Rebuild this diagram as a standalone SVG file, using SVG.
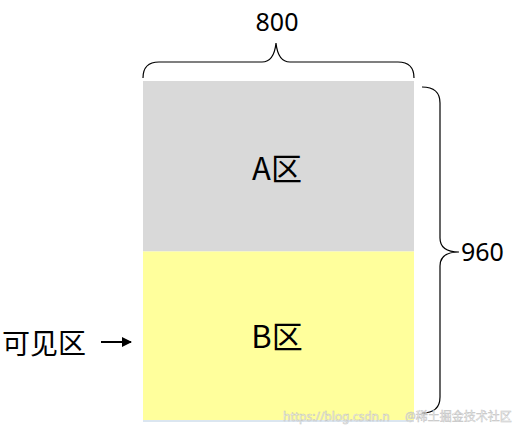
<svg xmlns="http://www.w3.org/2000/svg" width="514" height="436" viewBox="0 0 514 436">
<style>
.lbl{font-family:"Noto Sans","Open Sans","Noto Sans CJK SC",sans-serif;fill:#000}
.cjk{font-family:"Noto Sans CJK SC","Noto Sans",sans-serif;fill:#000}
.brace{fill:none;stroke:#000;stroke-width:1.2}
.wm{font-family:"Noto Sans","Noto Sans CJK SC",sans-serif;font-size:12px;fill:#ffffff;stroke:#b8b8b8;stroke-width:0.5;opacity:0.85}
</style>
<defs>
<marker id="ah" viewBox="0 0 10 10" refX="9" refY="5" markerWidth="5" markerHeight="5" orient="auto" markerUnits="strokeWidth">
<path d="M0,0 L10,5 L0,10 z" fill="#000"/>
</marker>
</defs>
<rect width="514" height="436" fill="#fff"/>
<g id="nodeA">
<rect x="143" y="81" width="271" height="170.5" fill="#d9d9d9"/>
<text class="cjk" x="277" y="180" font-size="31" text-anchor="middle">A区</text>
</g>
<g id="nodeB">
<rect x="143" y="251.5" width="271" height="168.5" fill="#ffff9c"/>
<line x1="143" y1="421" x2="414" y2="421" stroke="#dbe6f0" stroke-width="2"/>
<text class="cjk" x="277" y="348" font-size="31" text-anchor="middle">B区</text>
</g>
<g id="connectors">
<path class="brace" d="M143,78 Q143,62 159,62 L262,62 Q274,62 276,43 Q278,62 290,62 L398,62 Q414,62 414,78"/>
<path class="brace" d="M422,87 Q440,87 440,103 L440,238 Q440,252 459,252 Q440,252 440,266 L440,397 Q440,413 422,413"/>
<line x1="101" y1="342" x2="131" y2="342" stroke="#000" stroke-width="2" marker-end="url(#ah)"/>
</g>
<g id="labels">
<text class="lbl" x="277" y="31" font-size="25" text-anchor="middle">800</text>
<text class="lbl" x="461" y="261" font-size="25">960</text>
<text class="cjk" x="2" y="354" font-size="28">可见区</text>
</g>
<text class="wm" x="283" y="421">https://blog.csdn.n</text>
<text class="wm" x="405" y="421">@稀土掘金技术社区</text>
</svg>
